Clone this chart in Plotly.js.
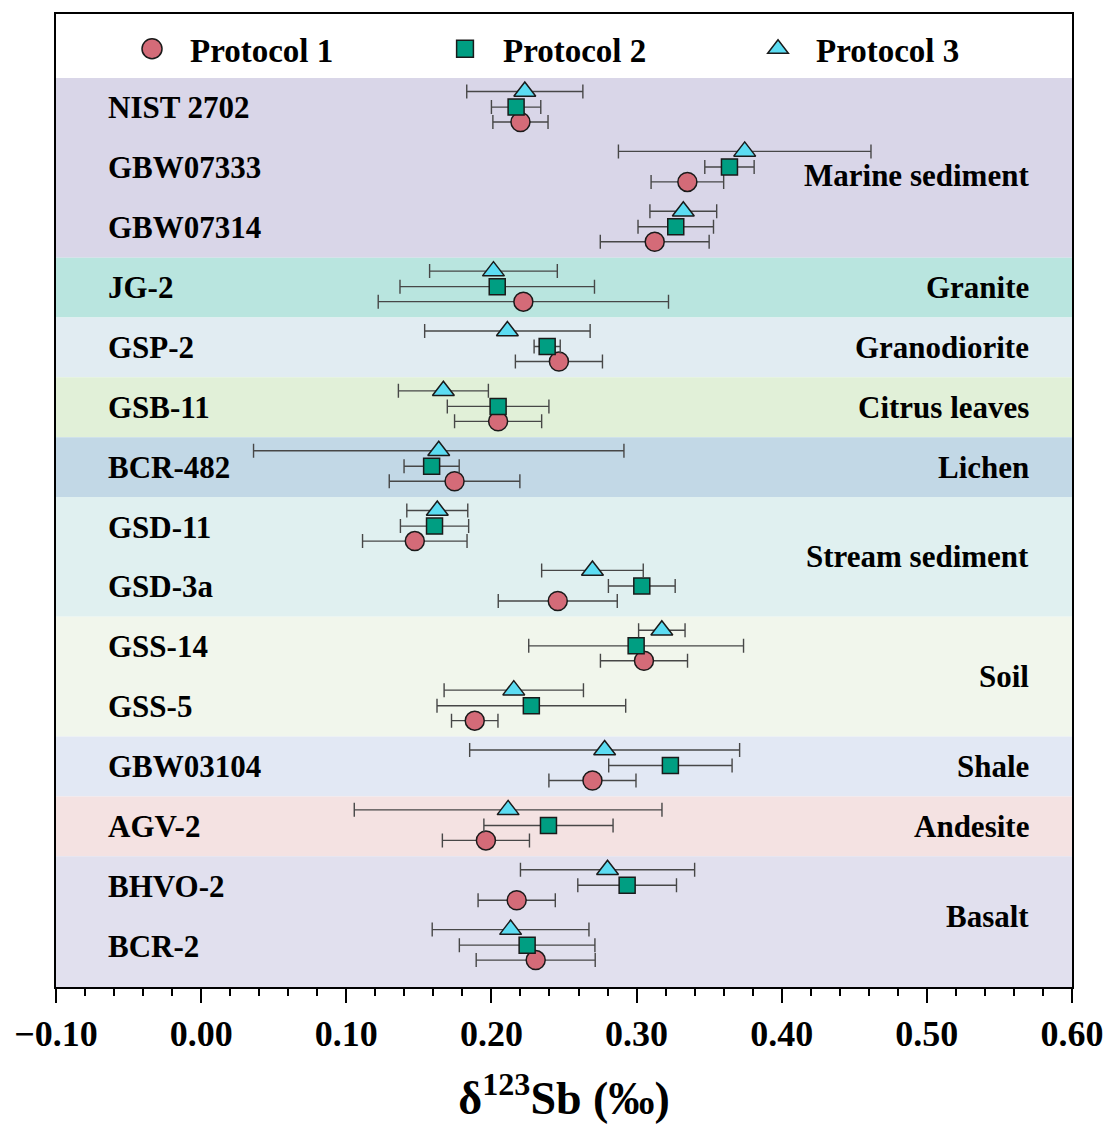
<!DOCTYPE html>
<html>
<head>
<meta charset="utf-8">
<script src="https://cdn.plot.ly/plotly-3.0.1.min.js"></script>
<style>html,body{margin:0;padding:0;background:#fff;}#chart{width:1110px;height:1126px;}</style>
</head>
<body>
<div id="chart"></div>
<script>
// ---- data ----
const samples = ['NIST 2702','GBW07333','GBW07314','JG-2','GSP-2','GSB-11','BCR-482','GSD-11','GSD-3a','GSS-14','GSS-5','GBW03104','AGV-2','BHVO-2','BCR-2'];
const protocol1 = [0.220,0.335,0.3125,0.222,0.2465,0.2046,0.1746,0.1472,0.2457,0.3051,0.1885,0.2696,0.1962,0.2174,0.2305];
const protocol1Err = [0.019,0.025,0.0375,0.100,0.030,0.030,0.045,0.036,0.041,0.030,0.016,0.030,0.030,0.0266,0.041];
const protocol2 = [0.217,0.364,0.327,0.204,0.2384,0.2046,0.1588,0.1608,0.3036,0.2997,0.2275,0.3233,0.2393,0.2935,0.2246];
const protocol2Err = [0.017,0.017,0.026,0.067,0.009,0.035,0.019,0.0235,0.023,0.074,0.065,0.0425,0.0445,0.034,0.0467];
const protocol3 = [0.223,0.3745,0.3322,0.2014,0.211,0.1669,0.1637,0.1627,0.2696,0.3174,0.2154,0.278,0.2115,0.280,0.2132];
const protocol3Err = [0.040,0.087,0.023,0.044,0.057,0.031,0.1276,0.021,0.035,0.016,0.048,0.093,0.106,0.060,0.054];

const groups = ['Marine sediment','Granite','Granodiorite','Citrus leaves','Lichen','Stream sediment','Soil','Shale','Andesite','Basalt'];
const groupFirst = ['NIST 2702','JG-2','GSP-2','GSB-11','BCR-482','GSD-11','GSS-14','GBW03104','AGV-2','BHVO-2'];
const groupLast  = ['GBW07314','JG-2','GSP-2','GSB-11','BCR-482','GSD-3a','GSS-5','GBW03104','AGV-2','BCR-2'];

// ---- styles ----
const bandColors = ['#d9d6e8','#b9e5df','#e1ecf2','#e1f0d8','#c2d8e6','#e0f0f0','#f1f6ec','#e2e8f4','#f4e2e2','#e1e0ee'];
const serif = 'Liberation Serif, Times New Roman, serif';
const yTop = -1.57, yBottom = 14.684;
const offsets = {p1: 0.235, p2: -0.015, p3: -0.275};

const idx = samples.map((s,i)=>i);
function trace(name, xs, errs, off, symbol, color, size){
  return {
    type:'scatter', mode:'markers', name:name,
    x: xs, y: idx.map(i=>i+off),
    error_x:{type:'data', array: errs, visible:true, color:'#474747', thickness:1.4, width:7},
    marker:{symbol:symbol, color:color, size:size, line:{color:'#1a1a1a', width:1.5}},
    hoverinfo:'x+name'
  };
}
const data = [
  trace('Protocol 1', protocol1, protocol1Err, offsets.p1, 'circle', '#d46b78', 19),
  trace('Protocol 2', protocol2, protocol2Err, offsets.p2, 'square', '#009e82', 16),
  trace('Protocol 3', protocol3, protocol3Err, offsets.p3, 'triangle-up', '#5cdcf2', 19)
];

const shapes = groups.map((g,k)=>{
  const a = samples.indexOf(groupFirst[k]), b = samples.indexOf(groupLast[k]);
  return {type:'rect', xref:'paper', yref:'y', x0:0, x1:1, y0:a-0.5,
    y1:(k===groups.length-1? yBottom : b+0.5), fillcolor:bandColors[k], line:{width:0}, layer:'below'};
});

const annotations = [];
samples.forEach((s,i)=>annotations.push({xref:'paper', yref:'y', x:0.0492, y:i, text:s, showarrow:false,
  xanchor:'left', yanchor:'middle', font:{family:serif, size:31, color:'#000', weight:'bold'}}));
groups.forEach((g,k)=>{
  const a = samples.indexOf(groupFirst[k]), b = samples.indexOf(groupLast[k]);
  annotations.push({xref:'paper', yref:'y', x:0.9597, y:(a+b)/2 + (b-a>=2?0.12:0), text:g, showarrow:false,
    xanchor:'right', yanchor:'middle', font:{family:serif, size:31, color:'#000', weight:'bold'}});
});

const layout = {
  width:1110, height:1126,
  margin:{l:56, r:38, t:14, b:139},
  paper_bgcolor:'#fff', plot_bgcolor:'#fff',
  showlegend:true,
  legend:{orientation:'h', x:0.0571, y:0.993, xanchor:'left', yanchor:'top', bgcolor:'rgba(0,0,0,0)',
    font:{family:serif, size:33, color:'#000', weight:'bold'}, itemwidth:66, entrywidth:232, tracegroupgap:0},
  xaxis:{range:[-0.1,0.6], dtick:0.1, tick0:0, tickformat:'.2f', ticks:'outside', ticklen:14, tickwidth:2,
    tickcolor:'#000', showline:true, linecolor:'#000', linewidth:2, mirror:true, showgrid:false, zeroline:false,
    tickfont:{family:serif, size:36, color:'#000', weight:'bold'},
    minor:{dtick:0.02, ticks:'outside', ticklen:7, tickwidth:2, tickcolor:'#000', showgrid:false},
    title:{text:'δ<sup>123</sup>Sb (‰)', font:{family:serif, size:46, color:'#000', weight:'bold'}, standoff:29}},
  yaxis:{range:[yBottom, yTop], showticklabels:false, ticks:'', showgrid:false, zeroline:false,
    showline:true, linecolor:'#000', linewidth:2, mirror:true},
  shapes:shapes, annotations:annotations
};
Plotly.newPlot('chart', data, layout, {displayModeBar:false, responsive:false}).then(gd=>{
  // enlarge legend symbols (Plotly caps legend marker size at 16px)
  const scales = [1.25, 1.05, 1.12];
  gd.querySelectorAll('.legend .traces').forEach((t,i)=>{
    t.querySelectorAll('.legendpoints path.scatterpts').forEach(p=>{
      const tr = p.getAttribute('transform') || '';
      p.setAttribute('transform', tr + ' scale(' + scales[i] + ')');
      p.style.strokeWidth = (1.5/scales[i]) + 'px';
    });
  });
});
</script>
</body>
</html>
